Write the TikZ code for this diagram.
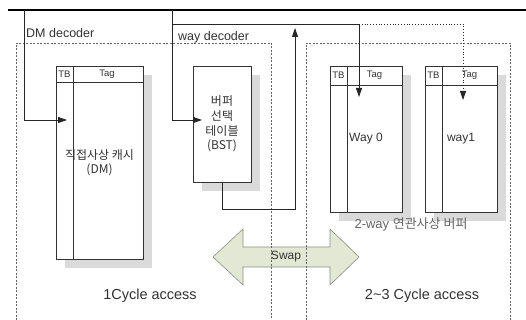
\documentclass[tikz,border=0pt]{standalone}
\usepackage{fontspec}
\setmainfont{Liberation Sans}
\newfontfamily\krfont{Noto Sans CJK KR}
\usetikzlibrary{arrows.meta,positioning,shadows,calc}

\definecolor{linegray}{HTML}{333333}
\definecolor{dashgray}{HTML}{666666}
\definecolor{shadegray}{HTML}{DADADA}
\definecolor{swapfill}{HTML}{E3E8D4}
\definecolor{swapline}{HTML}{8C9080}

\begin{document}
\begin{tikzpicture}[
    x=1pt, y=-1pt,
    cache/.style={draw=linegray, fill=white, line width=0.7pt, inner sep=0pt, outer sep=0pt,
        anchor=north west, align=center, text=linegray,
        drop shadow={shadow xshift=9pt, shadow yshift=-9pt, fill=shadegray, opacity=1}},
    hdr/.style={font=\fontsize{9.5}{10}\selectfont, text=linegray, inner sep=0pt},
    cell/.style={draw=linegray, line width=0.7pt},
    region/.style={draw=dashgray, dash pattern=on 2pt off 1.5pt, line width=0.6pt},
    lbl/.style={text=linegray, inner sep=0pt},
    arr/.style={-{Triangle[length=9pt,width=6pt]}, line width=0.8pt, draw=black!85}
]
\path[use as bounding box, fill=white] (0,0) rectangle (526,320);

% swap arrow between the two halves
\filldraw[fill=swapfill, draw=swapline, line width=0.6pt]
    (213,257) -- (243,229) -- (243,247) -- (330,247) -- (330,229) -- (359,257)
    -- (330,285) -- (330,267) -- (243,267) -- (243,285) -- cycle;
\node[lbl, font=\fontsize{12}{14}\selectfont] (swap) at (286,257) {Swap};

% decoder regions
\draw[region] (16,320) -- (16,43) -- (271,43) -- (271,320);
\draw[region] (306,320) -- (306,43) -- (510,43) -- (510,320);
\node[lbl, anchor=west, font=\fontsize{12.5}{14}\selectfont] (dmdec) at (26,33) {DM decoder};
\node[lbl, anchor=west, font=\fontsize{12.5}{14}\selectfont] (waydec) at (178,37) {way decoder};

% direct-mapped cache
\node[cache, minimum width=87pt, minimum height=193pt, font=\fontsize{12}{14}\selectfont\krfont]
    (dm) at (56,66) {직접사상 캐시\\(DM)};
\draw[cell] ([xshift=17pt]dm.north west) -- ([xshift=17pt]dm.south west);
\draw[cell] ([yshift=-16pt]dm.north west) -- ([yshift=-16pt]dm.north east);
\node[hdr] at ($(dm.north west)+(8.5,8)$) {TB};
\node[hdr] at ($(dm.north west)+(51,8)$) {Tag};

% buffer select table
\node[cache, minimum width=58pt, minimum height=116pt, font=\fontsize{12}{14.7}\selectfont\krfont]
    (bst) at (193,66) {버퍼\\선택\\테이블\\(BST)};

% 2-way buffer
\foreach \name/\xpos/\txt in {way0/330/Way 0, way1/425/way1} {
    \node[cache, minimum width=72pt, minimum height=146pt, font=\fontsize{12}{14}\selectfont]
        (\name) at (\xpos,66) {\txt};
    \draw[cell] ([xshift=17pt]\name.north west) -- ([xshift=17pt]\name.south west);
    \draw[cell] ([yshift=-19pt]\name.north west) -- ([yshift=-19pt]\name.north east);
    \node[hdr] at ($(\name.north west)+(8.5,9.5)$) {TB};
    \node[hdr] at ($(\name.north west)+(44.5,9.5)$) {Tag};
}
\node[text=black!60, inner sep=0pt, font=\fontsize{13}{14}\selectfont]
    (assoc) at (411,224) {2-way {\krfont 연관사상 버퍼}};

% address bus and decoder lines
\coordinate (busL) at (8,10);
\coordinate (busR) at (526,10);
\draw[line width=2pt] (busL) -- (busR);

\coordinate (dmtap) at (24,10);
\coordinate (dmin) at (67,120);
\draw[arr] (dmtap) |- (dmin);

\coordinate (waytap) at (172,10);
\coordinate (bstin) at (202,120);
\draw[arr] (waytap) |- (bstin);

\coordinate (wayrow) at (172,24);
\coordinate (w0in) at (359,97);
\coordinate (w1in) at (463,100);
\draw[arr] (wayrow) -| (w0in);
\draw[arr, dotted] (w0in |- wayrow) -| (w1in);

\coordinate (swapup) at (295,28);
\draw[arr] (bst.south) -- ++(0,27) -| (swapup);

% access times
\node[lbl, font=\fontsize{14.5}{16}\selectfont] (cyc1) at (150,296) {1Cycle access};
\node[lbl, font=\fontsize{14.5}{16}\selectfont] (cyc23) at (422,296) {2\textasciitilde3 Cycle access};
\end{tikzpicture}
\end{document}
